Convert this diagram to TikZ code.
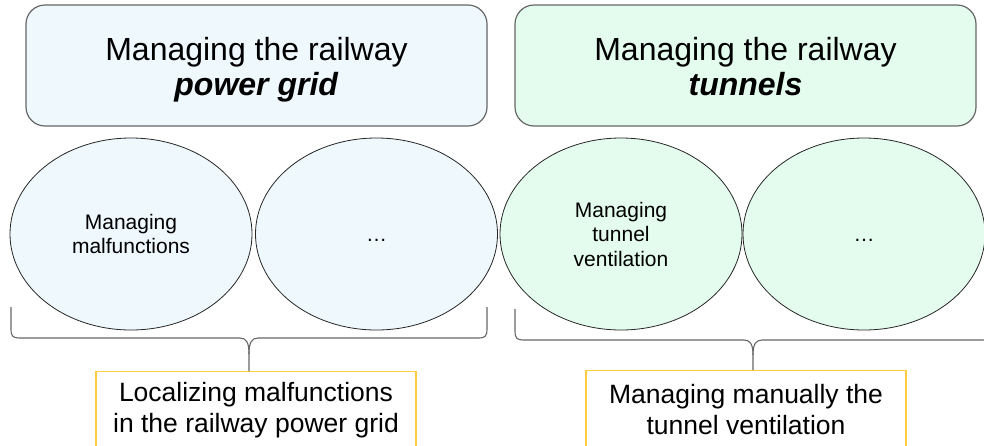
\documentclass[tikz,border=0pt]{standalone}
\usepackage{fontspec}
\setmainfont{Liberation Sans}
\usetikzlibrary{shapes.geometric}
\definecolor{blueFill}{HTML}{EEF8FD}
\definecolor{greenFill}{HTML}{E4FCEE}
\definecolor{boxLine}{HTML}{666666}
\definecolor{yellowLine}{HTML}{FFCC40}
\begin{document}
\begin{tikzpicture}[x=1pt,y=-1pt,
  topbox/.style={draw=boxLine, line width=1.2pt, rounded corners=19pt, minimum width=461pt, minimum height=121pt, inner sep=0pt},
  titletext/.style={align=center, inner sep=0pt, font=\fontsize{32}{35}\selectfont},
  oval/.style={ellipse, draw=black!85, line width=0.8pt, minimum width=242pt, minimum height=192pt, inner sep=0pt, align=center, font=\fontsize{21}{24.5}\selectfont},
  resultbox/.style={draw=yellowLine, line width=1.2pt, minimum width=320pt, minimum height=78pt, anchor=north, inner sep=0pt, align=center, font=\fontsize{26.5}{31}\selectfont},
  bracepath/.style={draw=boxLine, line width=1.1pt}]
\useasboundingbox (0,0) rectangle (984,445);
\clip (0,0) rectangle (984,445);
% top boxes
\node[topbox, fill=blueFill] (tl) at (256.5,65.5) {};
\node[titletext] (tlt) at (256.5,70) {Managing the railway\\\textbf{\textit{power grid}}};
\node[topbox, fill=greenFill] (tr) at (745.5,65.5) {};
\node[titletext] (trt) at (745.5,70) {Managing the railway\\\textbf{\textit{tunnels}}\vphantom{pg}};
% ellipses
\node[oval, fill=blueFill] (e1) at (131,234) {Managing\\malfunctions};
\node[oval, fill=blueFill] (e2) at (376.5,234) {\vphantom{M}…};
\node[oval, fill=greenFill] (e3) at (621,234) {Managing\\tunnel\\ventilation};
\node[oval, fill=greenFill] (e4) at (864,234) {\vphantom{M}…};
% result boxes
\node[resultbox] (rl) at (256,371) {Localizing malfunctions\\in the railway power grid};
\node[resultbox] (rr) at (746,370) {Managing manually the\\tunnel ventilation};
% braces
\coordinate (lbA) at (11,307);
\coordinate (lbB) at (487,307);
\coordinate (lbT) at (249,354);
\draw[bracepath] (lbA) -- (11,329) .. controls (11,336) and (13,338) .. (19,338) -- (240,338) .. controls (246,338) and (249,342) .. (lbT) -- (rl.north -| lbT);
\draw[bracepath] (lbB) -- (487,329) .. controls (487,336) and (485,338) .. (479,338) -- (258,338) .. controls (252,338) and (249,342) .. (lbT);
\coordinate (rbA) at (515,309);
\coordinate (rbB) at (991,309);
\coordinate (rbT) at (753,355);
\draw[bracepath] (rbA) -- (515,331) .. controls (515,338) and (517,340) .. (523,340) -- (744,340) .. controls (750,340) and (753,344) .. (rbT) -- (rr.north -| rbT);
\draw[bracepath] (rbB) -- (991,331) .. controls (991,338) and (989,340) .. (983,340) -- (762,340) .. controls (756,340) and (753,344) .. (rbT);
\end{tikzpicture}
\end{document}
